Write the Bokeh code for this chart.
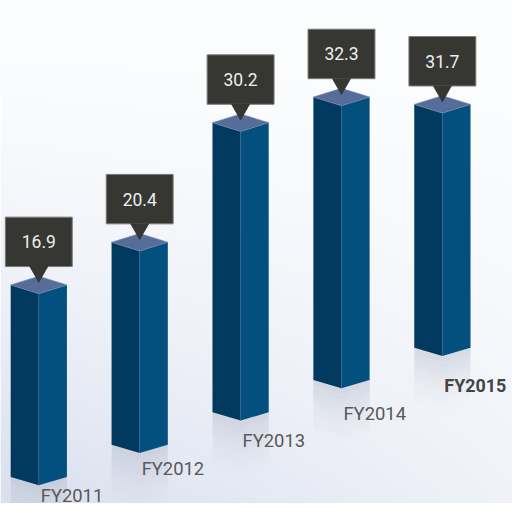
import numpy as np
from bokeh.plotting import figure
from bokeh.models import Range1d, ColumnDataSource
from bokeh.core.properties import value
from bokeh.embed import file_html
from bokeh.resources import INLINE

# ---- data ----
years = ["FY2011", "FY2012", "FY2013", "FY2014", "FY2015"]
revenue = [16.9, 20.4, 30.2, 32.3, 31.7]
value_labels = ["16.9", "20.4", "30.2", "32.3", "31.7"]

# ---- layout ----
W, H = 512, 503
RW, RH = 528, 519              # design size (scaled to fit the page)
SC = W / RW
X0 = -0.3796
X1 = X0 + RW / 104.05
Y1 = 515.3 / 12.59
Y0 = Y1 - RH / 12.59
PXX = (X1 - X0) / RW
PXY = (Y1 - Y0) / RH
FLOOR0, FLOOR_STEP = 1.2, 2.65   # perspective floor (rises with depth)
HW = 29 * PXX
DYC = 9 * PXY
DYB = 8.5 * PXY

p = figure(width=W, height=H, x_range=Range1d(X0, X1), y_range=Range1d(Y0, Y1),
           output_backend="svg", toolbar_location=None, min_border=0,
           outline_line_color=None, background_fill_color="white", border_fill_color="white")
p.axis.visible = False
p.grid.visible = False

# background gradient
yy, xx = np.mgrid[0:H, 0:W]
ty = 1.0 - yy / H   # row 0 at bottom
tx = xx / W
d = np.clip((ty ** 1.6) * (1 - 0.65 * tx) + 0.03, 0, 1)
c_lo = np.array([0xdb, 0xe0, 0xef])
c_hi = np.array([0xfd, 0xfe, 0xff])
r = (c_hi[0] * (1 - d) + c_lo[0] * d).astype(np.uint32)
g = (c_hi[1] * (1 - d) + c_lo[1] * d).astype(np.uint32)
b = (c_hi[2] * (1 - d) + c_lo[2] * d).astype(np.uint32)
img = (255 << 24) | (b << 16) | (g << 8) | r
p.image_rgba(image=[img.astype(np.uint32)], x=X0, y=Y0, dw=X1 - X0, dh=Y1 - Y0)

xc_list = list(range(len(years)))
floors = [FLOOR0 + FLOOR_STEP * i for i in xc_list]

# reflections
N = 10
STEP = 6 * PXY
for j in range(N):
    xs, ys = [], []
    for i, xc in enumerate(xc_list):
        fl = floors[i]
        a0, a1 = j * STEP, (j + 1) * STEP
        xs.append([xc - HW, xc, xc + HW, xc + HW, xc, xc - HW])
        ys.append([fl + DYB - a0, fl - a0, fl + DYB - a0, fl + DYB - a1, fl - a1, fl + DYB - a1])
    p.patches(xs, ys, fill_color="#9ea6b8", fill_alpha=0.32 * (1 - j / N) ** 1.5, line_color=None)

# faces
lx, ly, rx, ry, tx_, ty_ = [], [], [], [], [], []
for i, xc in enumerate(xc_list):
    top = revenue[i]
    fl = floors[i]
    lx.append([xc - HW, xc, xc, xc - HW]); ly.append([top + DYC, top, fl, fl + DYB])
    rx.append([xc, xc + HW, xc + HW, xc]); ry.append([top, top + DYC, fl + DYB, fl])
    tx_.append([xc - HW, xc, xc + HW, xc]); ty_.append([top + DYC, top + 2 * DYC, top + DYC, top])
p.patches(lx, ly, fill_color="#023a5f", line_color=None)
p.patches(rx, ry, fill_color="#03507f", line_color=None)
p.patches(tx_, ty_, fill_color="#566d99", line_color="#6d82aa", line_width=0.6)
p.segment(x0=xc_list, y0=revenue, x1=xc_list, y1=floors, line_color="#2a6690", line_width=1, line_alpha=0.7)

# callouts
box_src = ColumnDataSource(dict(
    left=[xc - 34.5 * PXX for xc in xc_list],
    right=[xc + 34.5 * PXX for xc in xc_list],
    bottom=[v + 28 * PXY for v in revenue],
    top=[v + 79 * PXY for v in revenue],
))
p.quad(left="left", right="right", bottom="bottom", top="top", source=box_src,
       fill_color="#363632", line_color="#7a7a76", line_width=1)
ax = [[xc - 10 * PXX, xc + 10 * PXX, xc] for xc in xc_list]
ay = [[v + 28.5 * PXY, v + 28.5 * PXY, v + 11 * PXY] for v in revenue]
p.patches(ax, ay, fill_color="#363632", line_color=None)
p.text(x=xc_list, y=[v + 53.5 * PXY for v in revenue], text=value_labels,
       text_align="center", text_baseline="middle", text_color="#eeeeee",
       text_font=value("Roboto"), text_font_size=f"{18 * SC:.1f}px")

# category labels
lab_x = [xc + 2 * PXX for xc in xc_list]
lab_y = [floors[i] - (11 + 5 * i) * PXY for i in xc_list]
p.text(x=lab_x[:-1], y=lab_y[:-1], text=years[:-1], text_align="left", text_baseline="alphabetic",
       text_color="#585858", text_font=value("Roboto"), text_font_size=f"{19 * SC:.1f}px")
p.text(x=lab_x[-1:], y=lab_y[-1:], text=years[-1:], text_align="left", text_baseline="alphabetic",
       text_color="#444444", text_font=value("Roboto"), text_font_size=f"{18.5 * SC:.1f}px",
       text_font_style="bold")

open("out.html", "w").write(file_html(p, INLINE))
